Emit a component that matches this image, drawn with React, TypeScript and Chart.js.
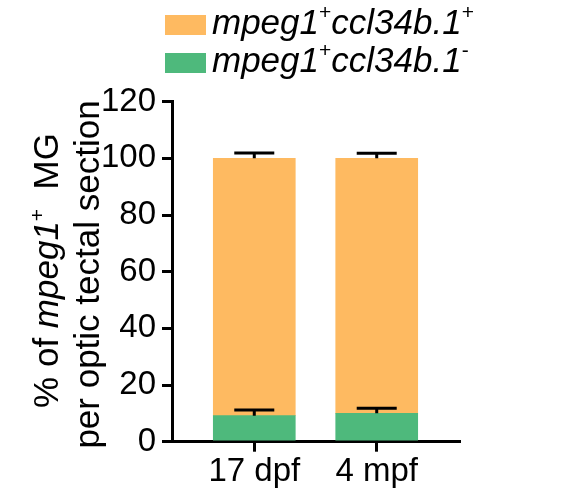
import React, { useEffect, useRef } from 'react'
import { Chart, registerables } from 'chart.js'

Chart.register(...registerables)

// x categories and stacked means (%), one-sided SD shown above each segment
const CATEGORIES = ['17 dpf', '4 mpf']
const NEG_MEAN = [9.2, 10.0]   // mpeg1+ccl34b.1-
const NEG_SD = [2.0, 1.8]
const POS_MEAN = [90.8, 90.0]  // mpeg1+ccl34b.1+
const POS_SD = [1.9, 1.8]
const Y_TICKS = [0, 20, 40, 60, 80, 100, 120]

const ORANGE = '#FEBA61'
const GREEN = '#4EB97C'
const FONT = '"Liberation Sans", Arial, sans-serif'

type Run = { t: string; italic?: boolean; sup?: boolean }

// draws a row of text runs (italic / superscript) starting at x, baseline y
function runsWidth(ctx: CanvasRenderingContext2D, runs: Run[], size: number, supSize: number) {
  let w = 0
  for (const r of runs) {
    ctx.font = `${r.italic ? 'italic ' : ''}${r.sup ? supSize : size}px ${FONT}`
    w += ctx.measureText(r.t).width
  }
  return w
}

function drawRuns(ctx: CanvasRenderingContext2D, runs: Run[], x: number, y: number, size: number, supSize: number, supShift: number) {
  let cx = x
  for (const r of runs) {
    ctx.font = `${r.italic ? 'italic ' : ''}${r.sup ? supSize : size}px ${FONT}`
    ctx.fillText(r.t, cx, r.sup ? y - supShift : y)
    cx += ctx.measureText(r.t).width
  }
}

const errorBars = {
  id: 'errorBars',
  afterDatasetsDraw(chart: any) {
    const { ctx } = chart
    const y = chart.scales.y
    const sds = [NEG_SD, POS_SD]
    ctx.save()
    ctx.strokeStyle = '#000'
    ctx.lineWidth = 3
    chart.data.datasets.forEach((_: any, di: number) => {
      const meta = chart.getDatasetMeta(di)
      meta.data.forEach((bar: any, i: number) => {
        const topVal = y.getValueForPixel(bar.y)
        const ey = y.getPixelForValue(topVal + sds[di][i])
        ctx.beginPath()
        ctx.moveTo(bar.x, bar.y)
        ctx.lineTo(bar.x, ey)
        ctx.moveTo(bar.x - 20, ey)
        ctx.lineTo(bar.x + 20, ey)
        ctx.stroke()
      })
    })
    ctx.restore()
  },
}

const decorations = {
  id: 'decorations',
  afterDraw(chart: any) {
    const { ctx } = chart
    ctx.save()
    ctx.fillStyle = '#000'
    ctx.textBaseline = 'alphabetic'
    ctx.textAlign = 'left'

    // legend
    const rows: { color: string; runs: Run[] }[] = [
      { color: ORANGE, runs: [{ t: 'mpeg1', italic: true }, { t: '+', sup: true }, { t: 'ccl34b.1', italic: true }, { t: '+', sup: true }] },
      { color: GREEN, runs: [{ t: 'mpeg1', italic: true }, { t: '+', sup: true }, { t: 'ccl34b.1', italic: true }, { t: '-', sup: true }] },
    ]
    rows.forEach((row, i) => {
      const by = 33.5 + i * 38
      ctx.fillStyle = row.color
      ctx.fillRect(165, by - 18.5, 41, 20)
      ctx.fillStyle = '#000'
      drawRuns(ctx, row.runs, 212, by, 35, 21, 15)
    })

    // rotated y-axis title, two lines
    const lines: { runs: Run[]; bx: number; cy: number }[] = [
      { runs: [{ t: '% of ' }, { t: 'mpeg1', italic: true }, { t: '+', sup: true }, { t: '  MG' }], bx: 58, cy: 270.5 },
      { runs: [{ t: 'per optic tectal section' }], bx: 98.5, cy: 274.5 },
    ]
    for (const l of lines) {
      const w = runsWidth(ctx, l.runs, 35, 21)
      ctx.save()
      ctx.translate(l.bx, l.cy)
      ctx.rotate(-Math.PI / 2)
      drawRuns(ctx, l.runs, -w / 2, 0, 35, 21, 14)
      ctx.restore()
    }
    ctx.restore()
  },
}

export default function App() {
  const canvasRef = useRef<HTMLCanvasElement>(null)

  useEffect(() => {
    document.body.style.margin = '0'
    if (!canvasRef.current) return
    const chart = new Chart(canvasRef.current, {
      type: 'bar',
      data: {
        datasets: [
          {
            label: 'mpeg1+ccl34b.1-',
            data: NEG_MEAN.map((v, i) => ({ x: i + 1, y: v })),
            backgroundColor: GREEN,
            barThickness: 82,
            borderWidth: 0,
          },
          {
            label: 'mpeg1+ccl34b.1+',
            data: POS_MEAN.map((v, i) => ({ x: i + 1, y: v })),
            backgroundColor: ORANGE,
            barThickness: 82,
            borderWidth: 0,
          },
        ],
      },
      options: {
        responsive: false,
        animation: false,
        layout: { padding: { top: 101.7, right: 102, left: 0, bottom: 0 } },
        plugins: { legend: { display: false }, tooltip: { enabled: false }, title: { display: false } },
        scales: {
          x: {
            type: 'linear',
            stacked: true,
            offset: false,
            min: 0.328,
            max: 2.672,
            afterDataLimits: (s: any) => { s.min = 0.328; s.max = 2.672 },
            afterBuildTicks: (s: any) => { s.ticks = CATEGORIES.map((_, i) => ({ value: i + 1 })) },
            afterFit: (s: any) => { s.height = 56.3 },
            ticks: {
              callback: (v: any) => CATEGORIES[Number(v) - 1] ?? '',
              color: '#000',
              font: { family: FONT, size: 33 },
              padding: 0,
              maxRotation: 0,
              autoSkip: false,
            },
            grid: { offset: false, drawOnChartArea: false, tickLength: 10, color: '#000', lineWidth: 3 },
            border: { color: '#000', width: 3 },
          },
          y: {
            stacked: true,
            min: Y_TICKS[0],
            max: Y_TICKS[Y_TICKS.length - 1],
            afterBuildTicks: (s: any) => { s.ticks = Y_TICKS.map((v) => ({ value: v })) },
            afterFit: (s: any) => { s.width = 172 },
            ticks: { color: '#000', font: { family: FONT, size: 33 }, padding: 6 },
            grid: { drawOnChartArea: false, tickLength: 10, color: '#000', lineWidth: 3 },
            border: { color: '#000', width: 3 },
          },
        },
      },
      plugins: [errorBars, decorations],
    } as any)
    return () => chart.destroy()
  }, [])

  return (
    <div style={{ width: 561, height: 498, background: '#fff' }}>
      <canvas ref={canvasRef} width={561} height={498} />
    </div>
  )
}
